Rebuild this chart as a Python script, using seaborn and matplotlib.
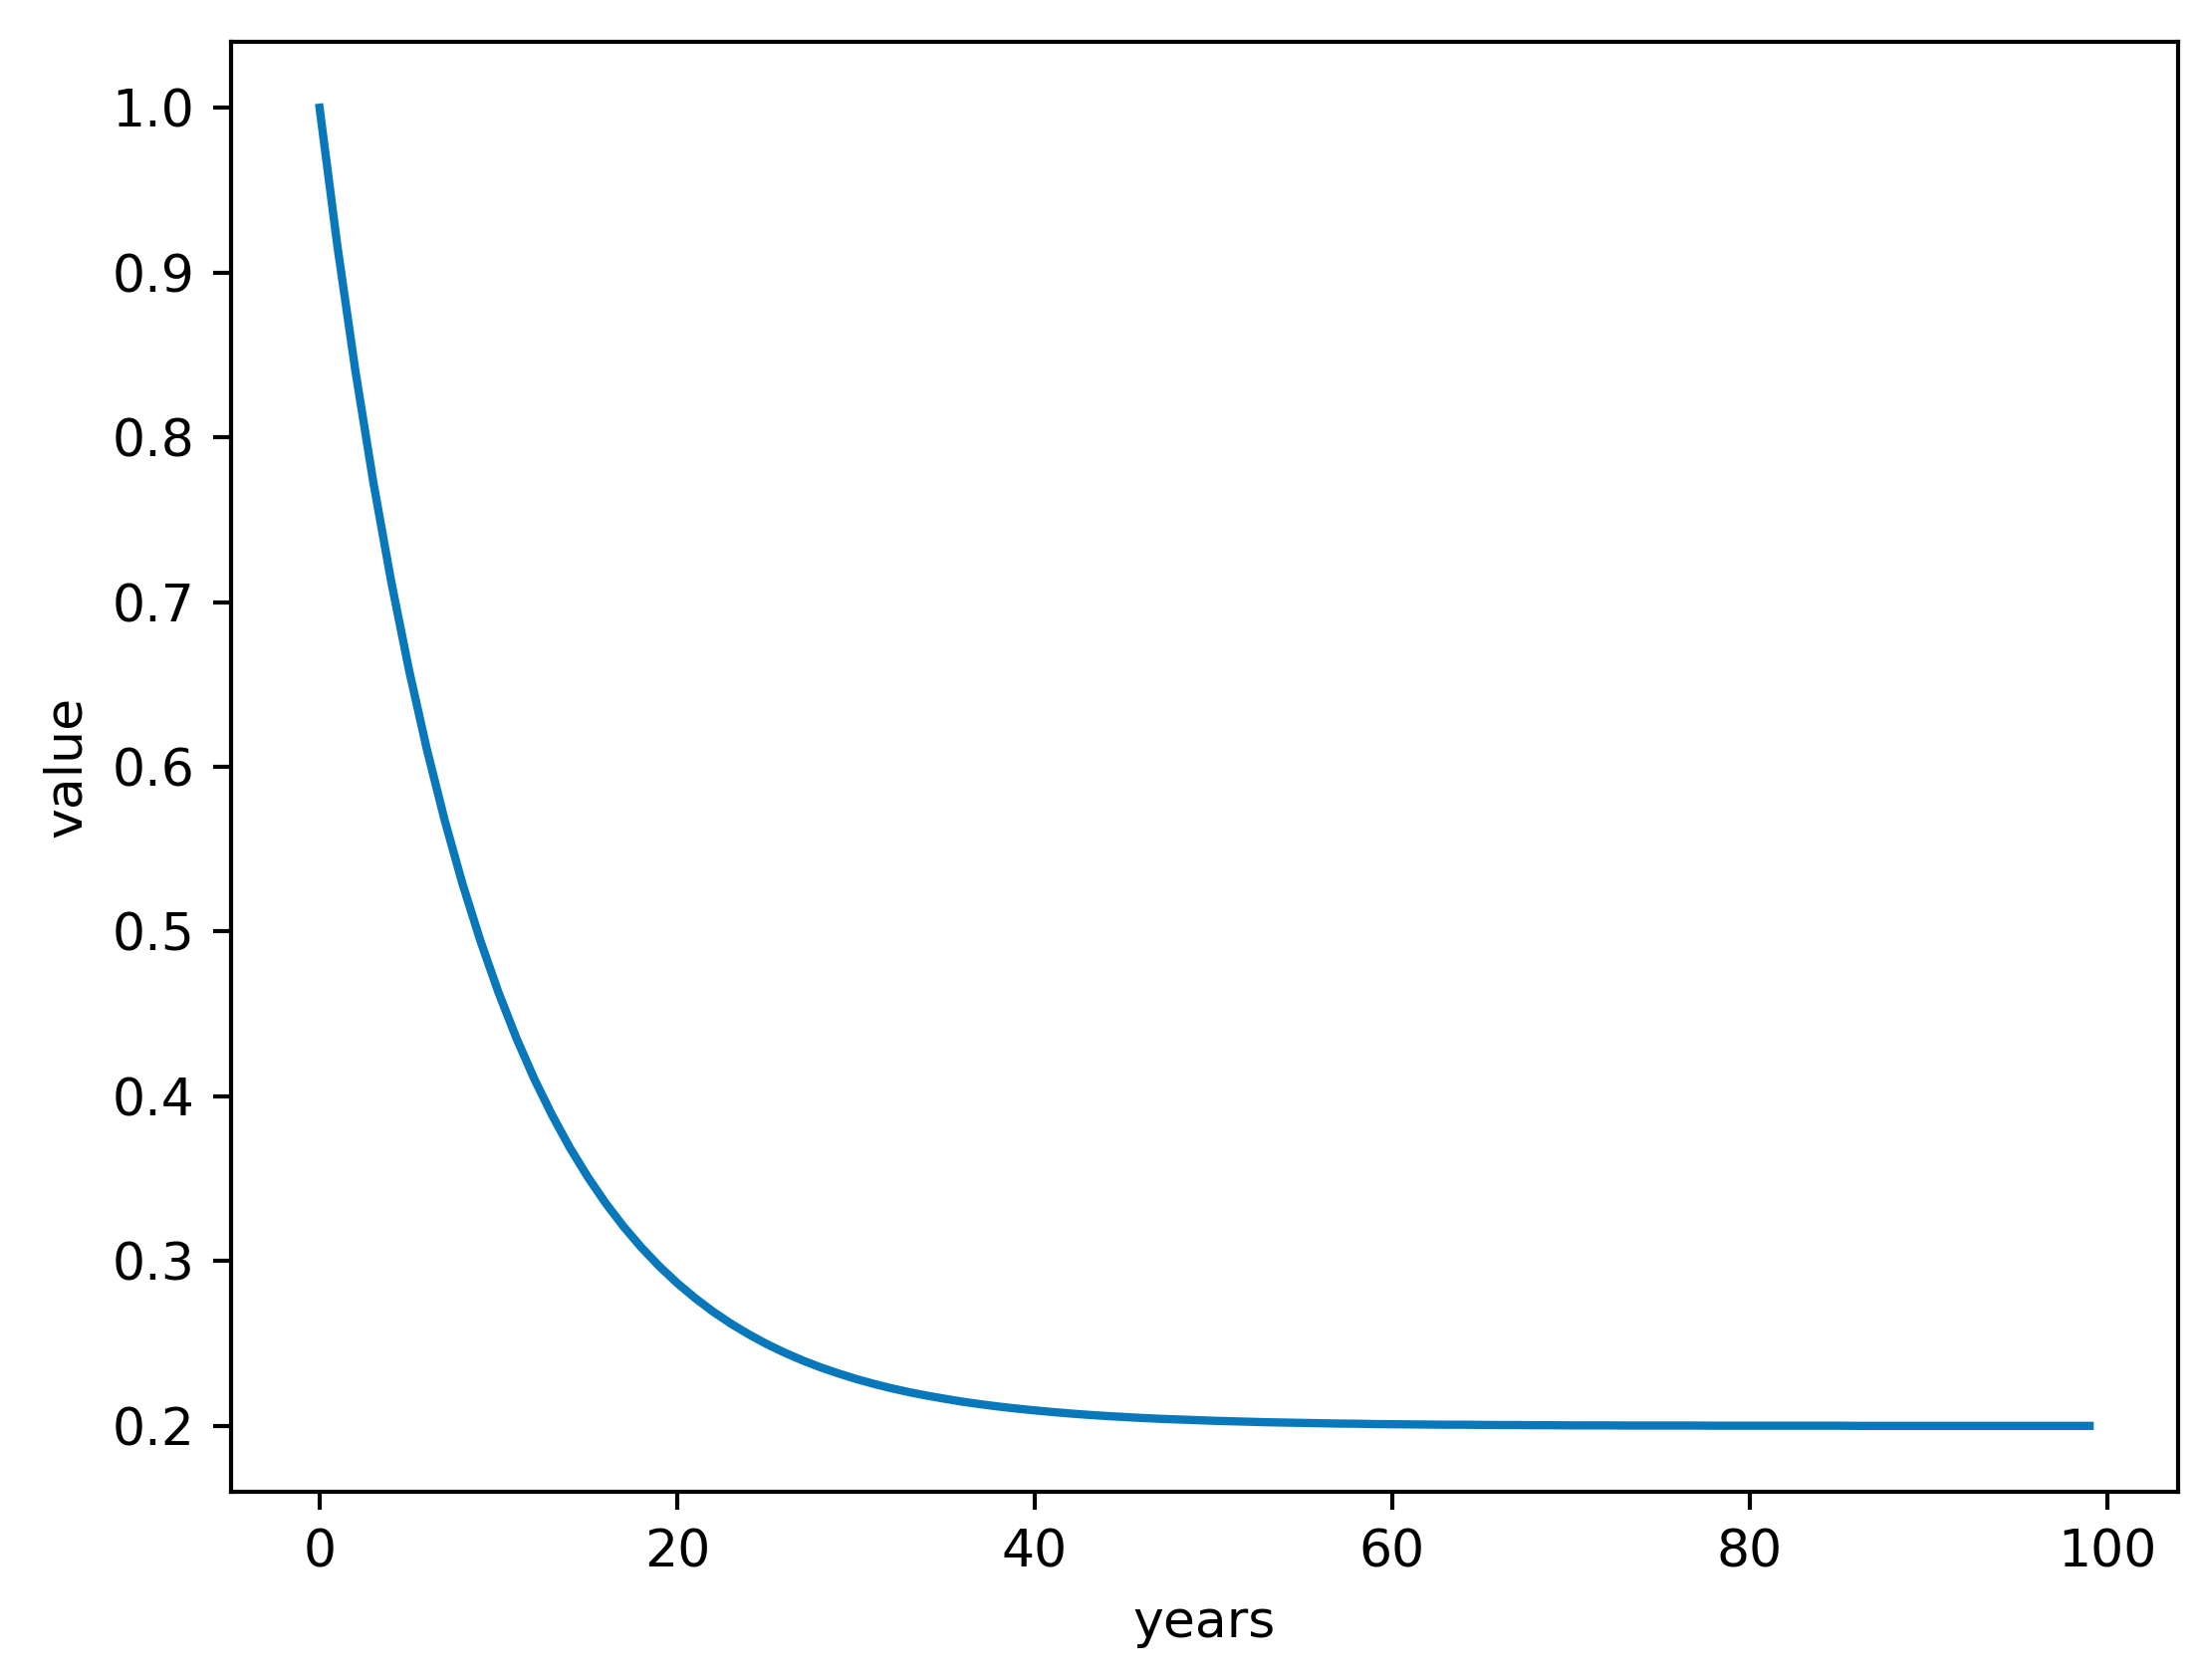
import pandas as pd
import matplotlib
matplotlib.use("Agg")
import matplotlib.pyplot as plt
import seaborn as sns

# values, one per year
years = list(range(100))
values = [
    1.0000, 0.9159, 0.8406, 0.7732, 0.7129, 0.6589, 0.6107, 0.5675, 0.5288, 0.4943,
    0.4633, 0.4356, 0.4108, 0.3887, 0.3688, 0.3511, 0.3352, 0.3210, 0.3083, 0.2969,
    0.2867, 0.2776, 0.2694, 0.2621, 0.2556, 0.2497, 0.2445, 0.2398, 0.2356, 0.2319,
    0.2285, 0.2255, 0.2228, 0.2204, 0.2183, 0.2164, 0.2146, 0.2131, 0.2117, 0.2105,
    0.2094, 0.2084, 0.2075, 0.2067, 0.2060, 0.2054, 0.2048, 0.2043, 0.2039, 0.2035,
    0.2031, 0.2028, 0.2025, 0.2022, 0.2020, 0.2018, 0.2016, 0.2014, 0.2013, 0.2011,
    0.2010, 0.2009, 0.2008, 0.2007, 0.2007, 0.2006, 0.2005, 0.2005, 0.2004, 0.2004,
    0.2003, 0.2003, 0.2003, 0.2002, 0.2002, 0.2002, 0.2002, 0.2002, 0.2001, 0.2001,
    0.2001, 0.2001, 0.2001, 0.2001, 0.2001, 0.2001, 0.2000, 0.2000, 0.2000, 0.2000,
    0.2000, 0.2000, 0.2000, 0.2000, 0.2000, 0.2000, 0.2000, 0.2000, 0.2000, 0.2000,
]

df = pd.DataFrame({"years": years, "value": values})

fig = plt.figure(figsize=(2210 / 375, 1687 / 375), dpi=375)
ax = fig.add_axes([232 / 2210, 1 - 1498 / 1687, (2187 - 232) / 2210, (1498 - 42) / 1687])
sns.lineplot(data=df, x="years", y="value", ax=ax, color="#0878bb", linewidth=1.6)
ax.set_xlabel("years")
ax.set_ylabel("value")

fig.savefig("out.png", dpi=375)
